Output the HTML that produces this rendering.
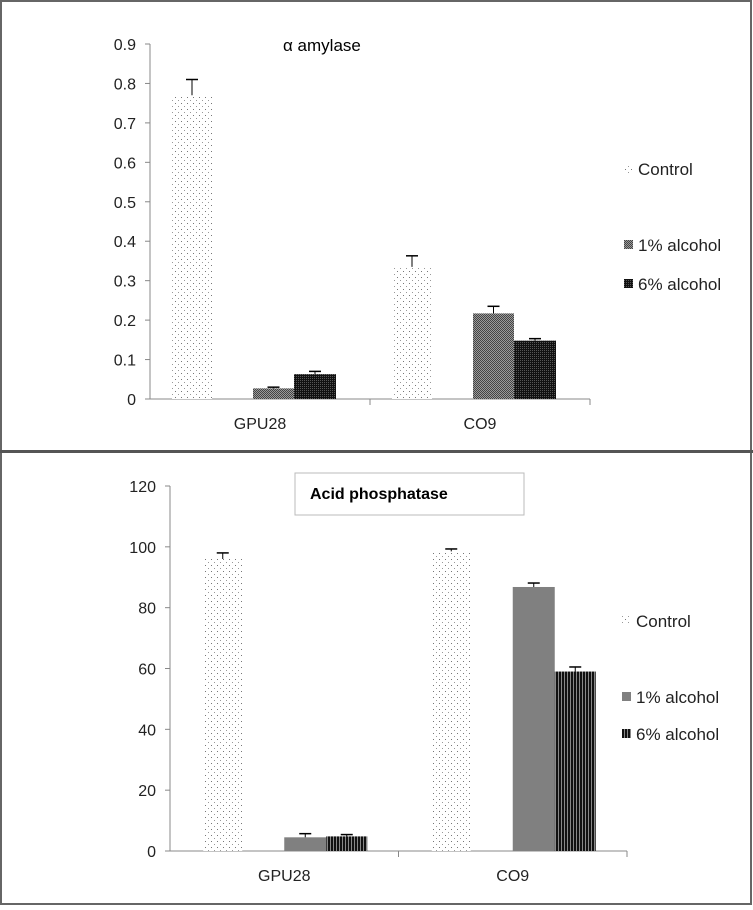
<!DOCTYPE html>
<html><head><meta charset="utf-8"><style>
html,body{margin:0;padding:0;background:#fff}
svg text{font-family:"Liberation Sans",sans-serif}
</style></head><body>
<svg width="753" height="905" viewBox="0 0 753 905" xmlns="http://www.w3.org/2000/svg">
<defs>
<pattern id="pDot" width="6" height="6" patternUnits="userSpaceOnUse"><rect width="6" height="6" fill="#fff"/><rect x="1" y="1" width="1" height="1" fill="#777"/><rect x="4" y="4" width="1" height="1" fill="#999"/></pattern>
<pattern id="pChk" width="2" height="2" patternUnits="userSpaceOnUse"><rect width="2" height="2" fill="#9a9a9a"/><rect width="1" height="1" fill="#444"/><rect x="1" y="1" width="1" height="1" fill="#444"/></pattern>
<pattern id="pDark" width="2" height="2" patternUnits="userSpaceOnUse"><rect width="2" height="2" fill="#111"/><rect width="1" height="1" fill="#555"/></pattern>
<pattern id="pStripe" width="3" height="3" patternUnits="userSpaceOnUse"><rect width="3" height="3" fill="#111"/><rect x="0" width="1" height="3" fill="#888"/></pattern>
</defs>
<rect x="1" y="1" width="750" height="903" fill="none" stroke="#666" stroke-width="2"/>
<line x1="0" y1="451.5" x2="753" y2="451.5" stroke="#555" stroke-width="3"/>
<g id="c1"></g>
<g id="c2"></g>
<text x="283" y="51" font-size="17">α amylase</text>
<rect x="295" y="473" width="229" height="42" fill="#fff" stroke="#bbb"/>
<text x="310" y="499" font-size="16" font-weight="bold">Acid phosphatase</text>
</svg>
<script>
const categories = ["GPU28", "CO9"];
const seriesNames = ["Control", "1% alcohol", "6% alcohol"];
const amyControl = [0.77, 0.335];
const amy1 = [0.027, 0.217];
const amy6 = [0.063, 0.148];
const amyErr = [[0.04, 0.028], [0.003, 0.018], [0.007, 0.005]];
const amyTicks = [0, 0.1, 0.2, 0.3, 0.4, 0.5, 0.6, 0.7, 0.8, 0.9];
const acpControl = [96, 98.5];
const acp1 = [4.5, 86.8];
const acp6 = [4.8, 59];
const acpErr = [[2, 0.8], [1.2, 1.3], [0.6, 1.5]];
const acpTicks = [0, 20, 40, 60, 80, 100, 120];

const NS = "http://www.w3.org/2000/svg";
function mk(parent, tag, attrs, txt) {
  const e = document.createElementNS(NS, tag);
  for (const k in attrs) e.setAttribute(k, attrs[k]);
  if (txt !== undefined) e.textContent = txt;
  parent.appendChild(e);
  return e;
}
function drawChart(g, cfg) {
  const y = v => cfg.y0 - (v - cfg.tmin) / (cfg.tmax - cfg.tmin) * (cfg.y0 - cfg.y1);
  const catW = (cfg.x1 - cfg.x0) / categories.length;
  const ax = mk(g, "line", {x1: cfg.x0, y1: cfg.y0, x2: cfg.x0, y2: cfg.y1, stroke: "#888"});
  
  
  cfg.ticks.forEach(t => {
    mk(g, "line", {x1: cfg.x0 - 5, y1: y(t), x2: cfg.x0, y2: y(t), stroke: "#888"});
    const tl = mk(g, "text", {x: cfg.x0 - 14, y: y(t) + 6, "font-size": 16, "text-anchor": "end", fill: "#222"}, String(t));
    
    
  });
  const xa = mk(g, "line", {x1: cfg.x0, y1: cfg.y0, x2: cfg.x1, y2: cfg.y0, stroke: "#888"});
  
  
  for (let i = 1; i <= categories.length; i++) {
    mk(g, "line", {x1: cfg.x0 + i * catW, y1: cfg.y0, x2: cfg.x0 + i * catW, y2: cfg.y0 + 6, stroke: "#888"});
  }
  const fills = cfg.fills;
  const series = cfg.series;
  categories.forEach((c, i) => {
    const cx = cfg.x0 + catW * (i + 0.5);
    const xl = mk(g, "text", {x: cx, y: cfg.y0 + 30, "font-size": 16, "text-anchor": "middle", fill: "#222"}, c);
    
    
    series.forEach((s, k) => {
      const bx = cx + cfg.offs[k];
      const top = y(s[i]);
      const r = mk(g, "rect", {x: bx, y: top, width: cfg.bw[k], height: cfg.y0 - top, fill: fills[k]});
      
      
      const ey = y(s[i] + cfg.err[k][i]);
      const mx = bx + cfg.bw[k] / 2;
      mk(g, "line", {x1: mx, y1: top, x2: mx, y2: ey, stroke: "#000"});
      mk(g, "line", {x1: mx - 6, y1: ey, x2: mx + 6, y2: ey, stroke: "#000", "stroke-width": 1.5});
    });
  });
  cfg.legendY.forEach((ly, k) => {
    const sw = mk(g, "rect", {x: cfg.lx, y: ly - 5, width: 9, height: 9, fill: fills[k]});
    
    
    const lt = mk(g, "text", {x: cfg.lx + 14, y: ly + 6, "font-size": 17, fill: "#222"}, seriesNames[k]);
    
    
  });
}
drawChart(document.getElementById("c1"), {
  x0: 150, x1: 590, y0: 399, y1: 44, tmin: 0, tmax: 0.9, ticks: amyTicks,
  offs: [-88, -7, 34], bw: [40, 41, 42],
  series: [amyControl, amy1, amy6], err: amyErr,
  fills: ["url(#pDot)", "url(#pChk)", "url(#pDark)"],
  lx: 624, legendY: [169, 245, 284]
});
drawChart(document.getElementById("c2"), {
  x0: 170, x1: 627, y0: 851, y1: 486, tmin: 0, tmax: 120, ticks: acpTicks,
  offs: [-81, 0, 42], bw: [39, 42, 41],
  series: [acpControl, acp1, acp6], err: acpErr,
  fills: ["url(#pDot)", "#808080", "url(#pStripe)"],
  lx: 622, legendY: [621, 697, 734]
});
</script>
</body></html>
